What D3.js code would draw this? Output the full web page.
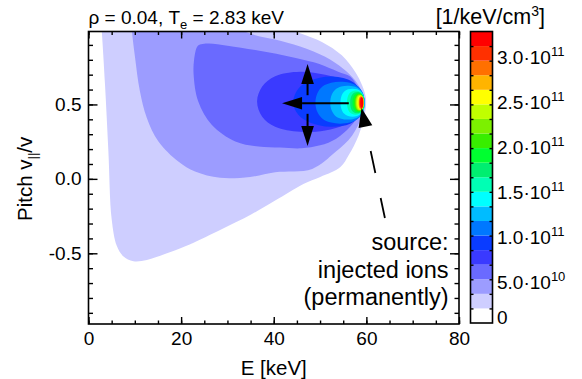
<!DOCTYPE html>
<html>
<head>
<meta charset="utf-8">
<script src="https://cdn.jsdelivr.net/npm/d3@7"></script>
<style>
  body { margin: 0; background: #fff; }
  text { font-family: "Liberation Sans", Arial, Helvetica, sans-serif; fill: #000; }
</style>
</head>
<body>
<div id="chart"></div>
<script>
// ---- data ----
// contour band colours, lowest (0) to highest level
const bandColors = ['#ffffff', '#ceceff', '#9c9cff', '#6a6aff', '#3a3aff', '#0a3cff',
  '#0078ff', '#00bcff', '#00ffff', '#00ffb4', '#00ee70', '#00ff30', '#38ee00',
  '#7cf000', '#c0ff00', '#ffff00', '#ffb400', '#ff7000', '#ff3000', '#ff0000']
const levelStep = 1.625e10   // width of one colour band [1/keV/cm3]

// outer contour outlines, [E keV, pitch]
const level1 = [[2.6, 1.1], [2.85, 1.0], [3.57, 0.63], [4.3, 0.18], [5.0, -0.27], [6.1, -0.45],
  [7.5, -0.52], [9.7, -0.553], [12.6, -0.545], [16.5, -0.505], [20.9, -0.453], [28.1, -0.348],
  [35.3, -0.236], [40.3, -0.146], [46.4, -0.034], [50.05, 0.013], [54.4, 0.08], [56.2, 0.16],
  [58.3, 0.29], [59.7, 0.44], [59.95, 0.52], [59.8, 0.56], [59.1, 0.628], [57.6, 0.718],
  [54.7, 0.83], [50.4, 0.92], [46, 0.975], [43.2, 1.01], [40, 1.1]]
const level2 = [[9.1, 1.1], [9.35, 1.0], [10.05, 0.815], [11.1, 0.588], [12.6, 0.409], [15.1, 0.251],
  [19.4, 0.116], [23, 0.049], [28.4, 0.007], [34.9, 0.013], [40.3, 0.045], [48.3, 0.067],
  [53.3, 0.18], [56.9, 0.29], [59.1, 0.426], [59.7, 0.51], [59.1, 0.58], [57.6, 0.66],
  [55, 0.74], [51.1, 0.82], [45.7, 0.889], [40.3, 0.936], [36, 0.965], [32.8, 1.01], [31, 1.1]]
const level3 = [[23.5, 0.89], [22.8, 0.80], [22.7, 0.70], [23.7, 0.52], [26.6, 0.364], [31.7, 0.251],
  [36.7, 0.217], [41.4, 0.21], [46, 0.205], [50, 0.225], [53.5, 0.27], [56.5, 0.35],
  [58.5, 0.43], [59.6, 0.51], [59.2, 0.57], [58.3, 0.61], [56.5, 0.687], [53.9, 0.72],
  [50, 0.77], [46.8, 0.797], [42, 0.83], [36, 0.865], [30, 0.895], [26, 0.91], [24.3, 0.905]]
const level4 = [[36.4, 0.52], [37.5, 0.62], [40.3, 0.69], [45.7, 0.72], [51.1, 0.70], [55.5, 0.66],
  [58.3, 0.59], [59.5, 0.52], [58.3, 0.43], [55.5, 0.365], [51.1, 0.325], [45.7, 0.316],
  [40.3, 0.35], [37.5, 0.418]]
const level5 = [[44.2, 0.515], [45.3, 0.606], [47.9, 0.66], [52.2, 0.687], [56.5, 0.66], [58.7, 0.6],
  [59.6, 0.52], [58.7, 0.43], [56.5, 0.37], [52.2, 0.35], [47.9, 0.377], [45.3, 0.43]]

// inner levels 6..19 around the source: left edge, right edge (keV), half height (pitch)
const innerLeftE  = [49.0, 52.2, 54.4, 55.8, 56.5, 57.0, 57.4, 57.6, 57.8, 58.05, 58.3, 58.4, 58.55, 58.7]
const innerRightE = [59.6, 59.6, 59.55, 59.5, 59.5, 59.45, 59.45, 59.4, 59.4, 59.4, 59.35, 59.35, 59.3, 59.3]
const innerHalfP  = [0.141, 0.114, 0.094, 0.081, 0.071, 0.064, 0.057, 0.054, 0.05, 0.047, 0.044, 0.04, 0.037, 0.034]
const sourcePitch = 0.512

// axes
const xMajor = [0, 20, 40, 60, 80]
const yMajor = [-0.5, 0.0, 0.5]
const cbTickValues = [0, 5e10, 1e11, 1.5e11, 2e11, 2.5e11, 3e11]
const cbMantissa = ['0', '5.0', '1.0', '1.5', '2.0', '2.5', '3.0']
const cbExponent = ['', '10', '11', '11', '11', '11', '11']

// annotation anchor points [E, pitch]
const arrowCentre = [56.2, 0.508]
const arrowLeftTip = [41.8, 0.508]
const arrowUpFrom = [47.3, 0.562], arrowUpTip = [47.3, 0.772]
const arrowDownFrom = [47.3, 0.437], arrowDownTip = [47.3, 0.221]
const sourceTip = [58.95, 0.476], sourceTail = [64.0, -0.263]
const sourceLabel = ['source:', 'injected ions', '(permanently)']

// ---- layout ----
const chart = { width: 582, height: 379 }
const plot = { left: 88.5, right: 459, top: 31.5, bottom: 324 }
const cbar = { left: 470.5, right: 492.5, top: 31.5, bottom: 323 }

const xScale = d3.scaleLinear().domain([0, 80]).range([plot.left, plot.right])
const yScale = d3.scaleLinear().domain([-0.975, 0.99]).range([plot.bottom, plot.top])
const cScale = d3.scaleLinear().domain([0, 20 * levelStep]).range([cbar.bottom, cbar.top])

const svg = d3.select('#chart').append('svg')
  .attr('width', chart.width).attr('height', chart.height)

svg.append('clipPath').attr('id', 'plotclip')
  .append('rect')
  .attr('x', plot.left).attr('y', plot.top)
  .attr('width', plot.right - plot.left).attr('height', plot.bottom - plot.top)

const line = d3.line()
  .x(d => xScale(d[0]))
  .y(d => yScale(d[1]))
  .curve(d3.curveCatmullRomClosed.alpha(0.5))

// egg outline template for the small inner levels (u along E, v along pitch)
const egg = [[0, 0], [0.04, 0.45], [0.15, 0.78], [0.32, 0.95], [0.5, 1], [0.7, 0.95], [0.86, 0.78],
  [0.96, 0.5], [1, 0.15], [1, -0.15], [0.96, -0.5], [0.86, -0.78], [0.7, -0.95], [0.5, -1],
  [0.32, -0.95], [0.15, -0.78], [0.04, -0.45]]

const contours = [level1, level2, level3, level4, level5]
innerLeftE.forEach((e0, i) => {
  const e1 = innerRightE[i], h = innerHalfP[i]
  contours.push(egg.map(([u, v]) => [e0 + u * (e1 - e0), sourcePitch + v * h]))
})

const base = svg.append('g').attr('clip-path', 'url(#plotclip)')
base.selectAll('path.level')
  .data(contours)
  .join('path')
  .attr('class', 'level')
  .attr('d', d => line(d))
  .attr('fill', (d, i) => bandColors[i + 1])

// ---- arrows ----
const ann = svg.append('g')
function head(tip, from, len, half) {
  const tx = xScale(tip[0]), ty = yScale(tip[1])
  const fx = xScale(from[0]), fy = yScale(from[1])
  const dx = fx - tx, dy = fy - ty, n = Math.hypot(dx, dy)
  const ux = dx / n, uy = dy / n
  const bx = tx + ux * len, by = ty + uy * len
  return [[tx, ty], [bx - uy * half, by + ux * half], [bx + uy * half, by - ux * half]]
}
function arrow(from, tip) {
  const h = head(tip, from, 20, 6.3)
  ann.append('line')
    .attr('x1', xScale(from[0])).attr('y1', yScale(from[1]))
    .attr('x2', (h[1][0] + h[2][0]) / 2).attr('y2', (h[1][1] + h[2][1]) / 2)
    .attr('stroke', 'black').attr('stroke-width', 2)
  ann.append('polygon').attr('points', h.map(p => p.join(',')).join(' ')).attr('fill', 'black')
}
arrow(arrowCentre, arrowLeftTip)
arrow(arrowUpFrom, arrowUpTip)
arrow(arrowDownFrom, arrowDownTip)

const sh = head(sourceTip, sourceTail, 19, 7)
ann.append('polygon').attr('points', sh.map(p => p.join(',')).join(' ')).attr('fill', 'black')
ann.append('line')
  .attr('x1', (sh[1][0] + sh[2][0]) / 2).attr('y1', (sh[1][1] + sh[2][1]) / 2)
  .attr('x2', xScale(sourceTail[0])).attr('y2', yScale(sourceTail[1]))
  .attr('stroke', 'black').attr('stroke-width', 1.8)
  .attr('stroke-dasharray', '22.5,25.5').attr('stroke-dashoffset', 23)

ann.selectAll('text.src')
  .data(sourceLabel)
  .join('text')
  .attr('class', 'src')
  .attr('x', 448.5)
  .attr('y', (d, i) => 250 + i * 27.5)
  .attr('text-anchor', 'end')
  .attr('font-size', '23.5px')
  .text(d => d)

// ---- axes ----
function ticksOnly(g) { g.select('.domain').remove(); g.selectAll('.tick line').attr('stroke-width', 1.4) }
const xMinor = d3.range(0, 81, 5)
const yMinor = d3.range(-9, 10).map(d => d / 10)

svg.append('g').attr('transform', `translate(0,${plot.bottom})`)
  .call(d3.axisBottom(xScale).tickValues(xMinor).tickSize(-3.5).tickFormat('')).call(ticksOnly)
svg.append('g').attr('transform', `translate(0,${plot.bottom})`)
  .call(d3.axisBottom(xScale).tickValues(xMajor).tickSize(-7).tickPadding(6).tickFormat(d3.format('d')))
  .call(ticksOnly)
  .selectAll('text').attr('font-size', '19px').attr('dy', '0.78em')
svg.append('g').attr('transform', `translate(0,${plot.top})`)
  .call(d3.axisTop(xScale).tickValues(xMinor).tickSize(-3.5).tickFormat('')).call(ticksOnly)
svg.append('g').attr('transform', `translate(0,${plot.top})`)
  .call(d3.axisTop(xScale).tickValues(xMajor).tickSize(-7).tickFormat('')).call(ticksOnly)

svg.append('g').attr('transform', `translate(${plot.left},0)`)
  .call(d3.axisLeft(yScale).tickValues(yMinor).tickSize(-4.5).tickFormat('')).call(ticksOnly)
svg.append('g').attr('transform', `translate(${plot.left},0)`)
  .call(d3.axisLeft(yScale).tickValues(yMajor).tickSize(-9).tickPadding(7).tickFormat(d => d.toFixed(1)))
  .call(ticksOnly)
  .selectAll('text').attr('font-size', '19px')
svg.append('g').attr('transform', `translate(${plot.right},0)`)
  .call(d3.axisRight(yScale).tickValues(yMinor).tickSize(-4.5).tickFormat('')).call(ticksOnly)
svg.append('g').attr('transform', `translate(${plot.right},0)`)
  .call(d3.axisRight(yScale).tickValues(yMajor).tickSize(-9).tickFormat('')).call(ticksOnly)

svg.append('rect')
  .attr('x', plot.left).attr('y', plot.top)
  .attr('width', plot.right - plot.left).attr('height', plot.bottom - plot.top)
  .attr('fill', 'none').attr('stroke', 'black').attr('stroke-width', 1.6)

// axis titles
svg.append('text')
  .attr('x', (plot.left + plot.right) / 2).attr('y', 375)
  .attr('text-anchor', 'middle').attr('font-size', '20.5px')
  .text('E [keV]')
const yt = svg.append('text')
  .attr('transform', `translate(32,${yScale(0)}) rotate(-90)`)
  .attr('text-anchor', 'middle').attr('font-size', '20.5px')
yt.append('tspan').text('Pitch v')
yt.append('tspan').attr('font-size', '13px').attr('dy', 5).text('||')
yt.append('tspan').attr('dy', -5).text('/v')

// title
const title = svg.append('text').attr('x', plot.left).attr('y', 23.5).attr('font-size', '19px')
title.append('tspan').text('\u03c1 = 0.04, T')
title.append('tspan').attr('font-size', '13px').attr('dy', 5).text('e')
title.append('tspan').attr('dy', -5).text(' = 2.83 keV')

// ---- colour bar ----
const bands = d3.range(20)
svg.append('g').selectAll('rect')
  .data(bands)
  .join('rect')
  .attr('x', cbar.left)
  .attr('y', d => cScale((d + 1) * levelStep))
  .attr('width', cbar.right - cbar.left)
  .attr('height', d => cScale(d * levelStep) - cScale((d + 1) * levelStep))
  .attr('fill', d => bandColors[d])

const cbEdges = d3.range(1, 20).map(d => d * levelStep)
svg.append('g').attr('transform', `translate(${cbar.left},0)`)
  .call(d3.axisLeft(cScale).tickValues(cbEdges).tickSize(-3).tickFormat('')).call(ticksOnly)
svg.append('g').attr('transform', `translate(${cbar.right},0)`)
  .call(d3.axisRight(cScale).tickValues(cbEdges).tickSize(-3).tickFormat('')).call(ticksOnly)
svg.append('rect')
  .attr('x', cbar.left).attr('y', cbar.top)
  .attr('width', cbar.right - cbar.left).attr('height', cbar.bottom - cbar.top)
  .attr('fill', 'none').attr('stroke', 'black').attr('stroke-width', 1.6)

const cbLabels = svg.append('g').selectAll('text')
  .data(cbTickValues)
  .join('text')
  .attr('x', 497)
  .attr('y', d => Math.min(cScale(d) + 3.5, 317) + 7)
  .attr('font-size', '19px')
cbLabels.append('tspan').text((d, i) => cbMantissa[i] + (cbExponent[i] ? '\u00b710' : ''))
cbLabels.append('tspan').attr('font-size', '13px').attr('dy', -8)
  .text((d, i) => cbExponent[i])

const unit = svg.append('text').attr('x', 545).attr('y', 24)
  .attr('text-anchor', 'end').attr('font-size', '21.5px')
unit.append('tspan').text('[1/keV/cm')
unit.append('tspan').attr('font-size', '14px').attr('dy', -8).text('3')
unit.append('tspan').attr('dy', 8).text(']')
</script>
</body>
</html>
